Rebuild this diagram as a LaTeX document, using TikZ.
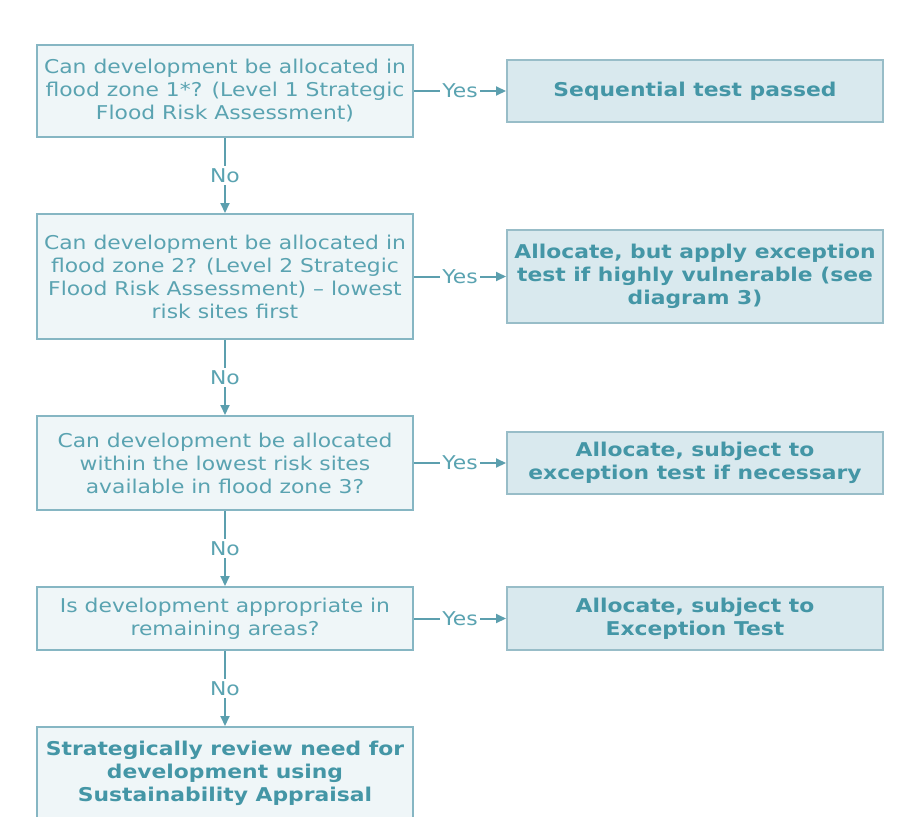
\documentclass[tikz,border=0pt]{standalone}
\usepackage{fontspec}
\setmainfont[FakeStretch=1.15]{DejaVu Sans}
\usetikzlibrary{arrows.meta,positioning}
\definecolor{qtext}{HTML}{5AA3B1}
\definecolor{atext}{HTML}{4496A6}
\definecolor{qfill}{HTML}{EFF6F8}
\definecolor{afill}{HTML}{D9E9EE}
\definecolor{qline}{HTML}{86B6C3}
\definecolor{aline}{HTML}{98BDC8}
\definecolor{flowc}{HTML}{5C9FAE}
\tikzset{
  fz/.style={x=1pt, y=1pt, >={Triangle[length=10pt,width=9pt]},
             every node/.style={font=\fontsize{19}{23}\selectfont}},
  qbox/.style={draw=qline, line width=2pt, fill=qfill, text=qtext, minimum width=376pt, align=center, inner sep=2pt},
  abox/.style={qbox, draw=aline, fill=afill, text=atext, font=\fontsize{19}{23}\selectfont\bfseries},
  flow/.style={->, draw=flowc, line width=2pt},
  lbl/.style={fill=white, text=qtext, inner sep=2.5pt}
}

\begin{document}
\begin{tikzpicture}[fz]
\useasboundingbox[fill=white] (0,0) rectangle (920,-816);
\node[qbox, minimum height=92pt] (q1) at (225,-91) {Can development be allocated in\\flood zone 1*? (Level 1 Strategic\\Flood Risk Assessment)};
\node[qbox, minimum height=125pt, below=75pt of q1] (q2) {Can development be allocated in\\flood zone 2? (Level 2 Strategic\\Flood Risk Assessment) -- lowest\\risk sites first};
\node[qbox, minimum height=94pt, below=75pt of q2] (q3) {Can development be allocated\\within the lowest risk sites\\available in flood zone 3?};
\node[qbox, minimum height=63pt, below=75pt of q3] (q4) {Is development appropriate in\\remaining areas?};
\node[abox, fill=qfill, draw=qline, minimum height=92pt, below=75pt of q4] (r5) {Strategically review need for\\development using\\Sustainability Appraisal};
% outcomes on the right
\node[abox, minimum height=62pt, right=92pt of q1] (a1) {Sequential test passed};
\node[abox, minimum height=93pt, right=92pt of q2] (a2) {Allocate, but apply exception\\test if highly vulnerable (see\\diagram 3)};
\node[abox, minimum height=62pt, right=92pt of q3] (a3) {Allocate, subject to\\exception test if necessary};
\node[abox, minimum height=63pt, right=92pt of q4] (a4) {Allocate, subject to\\Exception Test};
\foreach \q/\a in {q1/a1, q2/a2, q3/a3, q4/a4}
  \draw[flow] (\q) -- node[lbl] {Yes} (\a);
\foreach \q/\n in {q1/q2, q2/q3, q3/q4, q4/r5}
  \draw[flow] (\q) -- node[lbl] {No} (\n);
\end{tikzpicture}
\end{document}
